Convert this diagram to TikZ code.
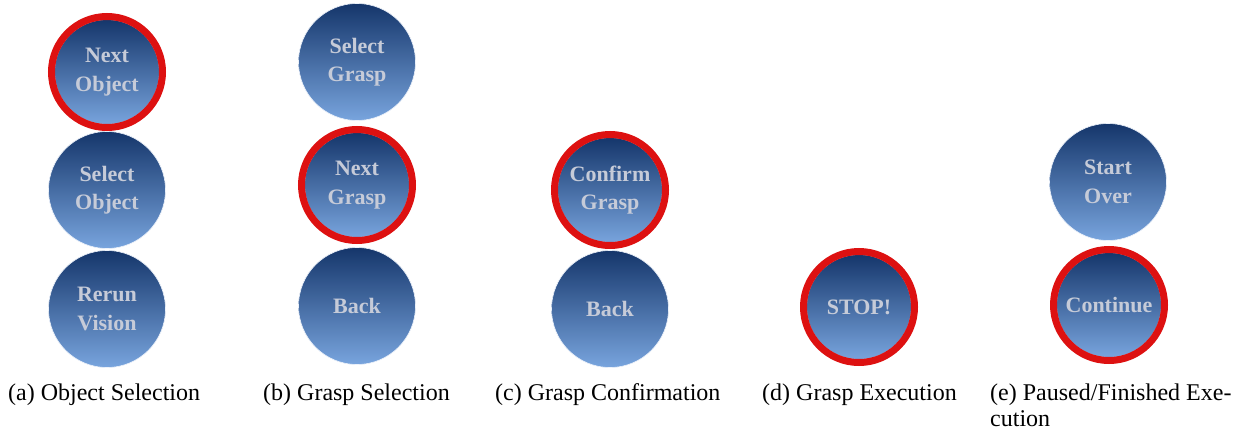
\documentclass[tikz,border=0pt]{standalone}
\usepackage{fontspec}
\setmainfont{Liberation Serif}
\definecolor{btntop}{HTML}{15366B}
\definecolor{btnbot}{HTML}{78A4DD}
\definecolor{btntext}{HTML}{C6CBD8}
\definecolor{ringred}{HTML}{DD1111}
\tikzset{
  btn/.style={circle, minimum size=117pt, inner sep=0pt, draw=white!85!btnbot, line width=0.6pt,
    top color=btntop, bottom color=btnbot, text=btntext, align=center,
    font=\fontsize{22}{28.5}\selectfont\bfseries},
  active/.style={minimum size=105pt},
  ring/.style={draw=ringred, line width=7pt},
  subcap/.style={anchor=base west, inner sep=0pt, font=\fontsize{24}{26}\selectfont, align=left}
}
\begin{document}
\begin{tikzpicture}[x=1pt,y=-1pt]
\useasboundingbox (0,0) rectangle (1239,431);
\fill[white] (0,0) rectangle (1239,431);

% (a) object selection
\node[btn,active] (a1) at (107,72) {Next\\Object};
\node[btn] (a2) at (107,190) {Select\\Object};
\node[btn] (a3) at (107,309) {Rerun\\Vision};
\draw[ring] (a1.center) circle (55.5);

% (b) grasp selection
\node[btn] (b1) at (357,62) {Select\\Grasp};
\node[btn,active] (b2) at (357,185) {Next\\Grasp};
\node[btn] (b3) at (357,306) {Back};
\draw[ring] (b2.center) circle (55.5);

% (c) grasp confirmation
\node[btn,active] (c1) at (610,190) {Confirm\\Grasp};
\node[btn] (c2) at (610,309) {Back};
\draw[ring] (c1.center) circle (55.5);

% (d) grasp execution
\node[btn,active] (d1) at (859,307) {STOP!};
\draw[ring] (d1.center) circle (55.5);

% (e) paused / finished execution
\node[btn] (e1) at (1108,182) {Start\\Over};
\node[btn,active] (e2) at (1109,305) {Continue};
\draw[ring] (e2.center) circle (55.5);

% sub-captions
\node[subcap] (ca) at (8,400) {(a) Object Selection};
\node[subcap] (cb) at (263,400) {(b) Grasp Selection};
\node[subcap] (cc) at (495,400) {(c) Grasp Confirmation};
\node[subcap] (cd) at (762,400) {(d) Grasp Execution};
\node[subcap] (ce) at (990,400) {(e) Paused/Finished Exe-};
\node[subcap] (ce2) at (990,426) {cution};
\end{tikzpicture}
\end{document}
